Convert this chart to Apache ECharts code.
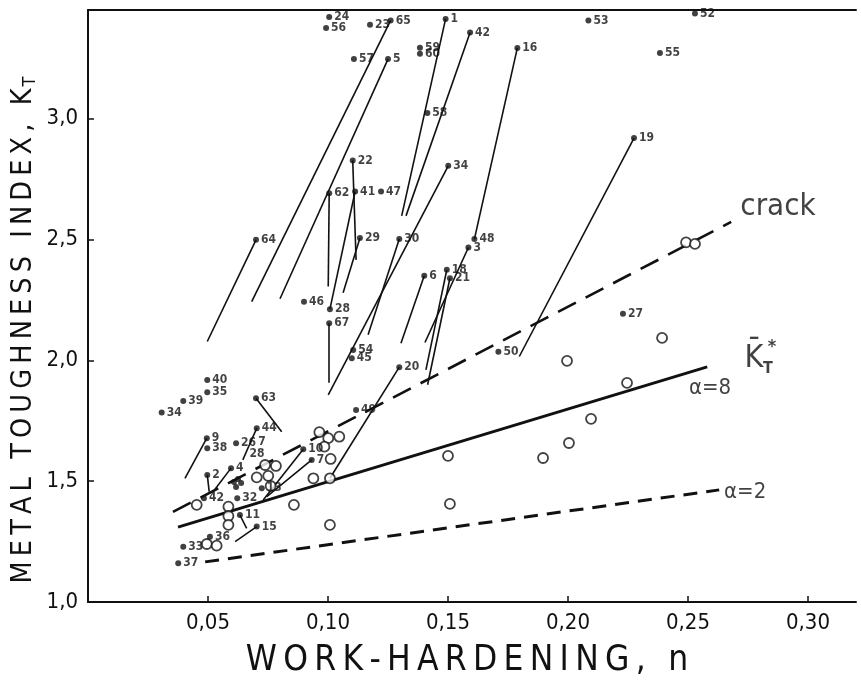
<!DOCTYPE html>
<html>
<head>
<meta charset="utf-8">
<script src="https://cdn.jsdelivr.net/npm/echarts@6/dist/echarts.min.js"></script>
<style>
  html, body { margin: 0; padding: 0; background: #fff; }
  #chart { width: 861px; height: 682px; }
</style>
</head>
<body>
<div id="chart"></div>
<script>
// tick labels (comma decimals as in the original)
const xTickValues = [0.05, 0.10, 0.15, 0.20, 0.25, 0.30];
const xTickLabels = ['0,05', '0,10', '0,15', '0,20', '0,25', '0,30'];
const yTickValues = [1.0, 1.5, 2.0, 2.5, 3.0];
const yTickLabels = ['1,0', '1,5', '2,0', '2,5', '3,0'];

// numbered specimens (filled dots): [n, KT, label]
const dots = [
  [0.1005, 3.421, '24'], [0.0992, 3.376, '56'], [0.1175, 3.389, '23'], [0.1261, 3.407, '65'],
  [0.1108, 3.247, '57'], [0.125, 3.247, '5'], [0.1383, 3.294, '59'], [0.1383, 3.269, '60'],
  [0.149, 3.413, '1'], [0.1592, 3.357, '42'], [0.1414, 3.024, '58'], [0.1789, 3.293, '16'],
  [0.2085, 3.407, '53'], [0.2529, 3.435, '52'], [0.2383, 3.272, '55'], [0.2275, 2.920, '19'],
  [0.1103, 2.827, '22'], [0.1005, 2.692, '62'], [0.1113, 2.699, '41'], [0.1221, 2.699, '47'],
  [0.1501, 2.805, '34'], [0.07, 2.499, '64'], [0.1133, 2.506, '29'], [0.1297, 2.502, '30'],
  [0.161, 2.502, '48'], [0.1585, 2.467, '3'], [0.1495, 2.375, '18'], [0.1508, 2.340, '21'],
  [0.1401, 2.350, '6'], [0.09, 2.243, '46'], [0.1008, 2.212, '28'], [0.1005, 2.154, '67'],
  [0.1105, 2.043, '54'], [0.1099, 2.009, '45'], [0.1297, 1.972, '20'], [0.171, 2.036, '50'],
  [0.2229, 2.193, '27'], [0.1117, 1.795, '49'], [0.0497, 1.919, '40'], [0.0497, 1.868, '35'],
  [0.0397, 1.832, '39'], [0.0307, 1.784, '34'], [0.07, 1.843, '63'], [0.0703, 1.719, '44'],
  [0.0617, 1.657, '26'], [0.0495, 1.678, '9'], [0.0497, 1.636, '38'], [0.0497, 1.526, '2'],
  [0.0483, 1.429, '42'], [0.0596, 1.554, '4'], [0.0622, 1.429, '32'], [0.0633, 1.360, '11'],
  [0.0703, 1.312, '15'], [0.0508, 1.270, '36'], [0.0397, 1.229, '33'], [0.0376, 1.160, '37'],
  [0.0724, 1.471, '13'], [0.0897, 1.632, '10'], [0.0932, 1.588, '7'],
  [0.0608, 1.497, ''], [0.0625, 1.509, ''], [0.0638, 1.493, ''], [0.0617, 1.476, '']
];

// tie lines from a dot down to its second state: [n1, KT1, n2, KT2]
const ties = [
  [0.1261, 3.407, 0.0682, 2.243], [0.125, 3.247, 0.08, 2.255], [0.07, 2.499, 0.0497, 2.078],
  [0.149, 3.413, 0.1307, 2.598], [0.1592, 3.357, 0.1325, 2.598], [0.1789, 3.293, 0.161, 2.502],
  [0.1103, 2.827, 0.1117, 2.416], [0.1005, 2.692, 0.1001, 2.306], [0.1113, 2.699, 0.1008, 2.212],
  [0.1133, 2.506, 0.1063, 2.280], [0.1501, 2.805, 0.1001, 1.857], [0.1297, 2.502, 0.1167, 2.106],
  [0.1005, 2.154, 0.1004, 1.907], [0.1401, 2.350, 0.1304, 2.071], [0.1585, 2.467, 0.1404, 2.074],
  [0.1495, 2.375, 0.1408, 1.961], [0.1508, 2.340, 0.1415, 1.899], [0.1297, 1.972, 0.1008, 1.512],
  [0.2275, 2.920, 0.1797, 2.016], [0.07, 1.843, 0.0807, 1.705], [0.0703, 1.719, 0.0645, 1.588],
  [0.0495, 1.678, 0.0404, 1.512], [0.0497, 1.526, 0.0505, 1.457], [0.0596, 1.554, 0.0522, 1.457],
  [0.0633, 1.360, 0.0661, 1.305], [0.0703, 1.312, 0.0613, 1.250], [0.0897, 1.632, 0.073, 1.422],
  [0.0932, 1.588, 0.0745, 1.436]
];

// open circles
const circles = [
  [0.0453, 1.402], [0.0703, 1.516], [0.0738, 1.567], [0.0783, 1.563], [0.0751, 1.522],
  [0.0761, 1.480], [0.0585, 1.395], [0.0585, 1.356], [0.0585, 1.319], [0.0858, 1.402],
  [0.0495, 1.240], [0.0536, 1.233], [0.0964, 1.703], [0.1001, 1.678], [0.1047, 1.684],
  [0.0985, 1.643], [0.1011, 1.592], [0.0939, 1.512], [0.1008, 1.512], [0.1008, 1.319],
  [0.15, 1.605], [0.1508, 1.406], [0.1896, 1.596], [0.2004, 1.658], [0.2096, 1.758],
  [0.2246, 1.907], [0.1996, 1.998], [0.2392, 2.093], [0.2492, 2.488], [0.2529, 2.482]
];

// reference curves
const crackLine = [[0.0354, 1.373], [0.268, 2.573]];
const alpha8Line = [[0.0375, 1.31], [0.258, 1.973]];
const alpha2Line = [[0.0488, 1.166], [0.263, 1.464]];

// loose labels: [n, KT, text, fontSize]
const notes = [
  [0.0725, 1.663, '7', 12], [0.0704, 1.613, '28', 12],
  [0.2875, 2.636, 'crack', 31], [0.2775, 2.006, 'K\u0304', 32], [0.2833, 1.965, 'T', 16],
  [0.285, 2.056, '*', 18], [0.2592, 1.886, '\u03b1=8', 22], [0.2738, 1.455, '\u03b1=2', 22]
];

const FONT = "'DejaVu Sans Condensed', 'DejaVu Sans', sans-serif";
const INK = '#111';

function tickLabel(values, labels) {
  return function (v) {
    for (let i = 0; i < values.length; i++) {
      if (Math.abs(values[i] - v) < 1e-6) return labels[i];
    }
    return '';
  };
}

function spaced(s) {
  return s.split('').join('\u2009');
}

let chart = echarts.init(document.getElementById('chart'));

chart.setOption({
  animation: false,
  backgroundColor: '#fff',
  grid: { left: 88, right: 5, top: 10, bottom: 80 },
  xAxis: [
    {
      type: 'value', min: 0, max: 0.32, interval: 0.05,
      axisLine: { onZero: false, lineStyle: { color: INK, width: 2 } },
      axisTick: { inside: true, length: 6, lineStyle: { color: INK, width: 1.5 } },
      splitLine: { show: false },
      axisLabel: {
        formatter: tickLabel(xTickValues, xTickLabels), color: INK, fontSize: 22,
        fontFamily: FONT, margin: 10, showMinLabel: false, showMaxLabel: false
      }
    },
    {
      type: 'value', position: 'top', min: 0, max: 0.32,
      axisLine: { onZero: false, lineStyle: { color: INK, width: 2 } },
      axisTick: { show: false }, axisLabel: { show: false }, splitLine: { show: false }
    }
  ],
  yAxis: {
    type: 'value', min: 1.0, max: 3.45, interval: 0.5,
    axisLine: { onZero: false, lineStyle: { color: INK, width: 2 } },
    axisTick: { inside: true, length: 6, lineStyle: { color: INK, width: 1.5 } },
    splitLine: { show: false },
    axisLabel: {
      formatter: tickLabel(yTickValues, yTickLabels), color: INK, fontSize: 22,
      fontFamily: FONT, margin: 10, showMaxLabel: false
    }
  },
  graphic: [
    {
      type: 'text', x: 24, y: 330, rotation: Math.PI / 2,
      style: {
        text: '{a|' + spaced('METAL TOUGHNESS INDEX, K') + '}{b|T}',
        align: 'center', verticalAlign: 'middle', fill: INK,
        rich: {
          a: { fontSize: 28.5, fontFamily: FONT, fill: INK },
          b: { fontSize: 18, fontFamily: FONT, fill: INK, padding: [12, 0, 0, 2] }
        }
      }
    },
    {
      type: 'text', x: 467, y: 661,
      style: {
        text: spaced('WORK-HARDENING, n'), fontSize: 35, fontFamily: FONT, fill: INK,
        align: 'center', verticalAlign: 'middle'
      }
    }
  ],
  series: [
    {
      type: 'lines', coordinateSystem: 'cartesian2d', silent: true, z: 2,
      lineStyle: { color: INK, width: 1.6, opacity: 1 },
      data: ties.map(t => ({ coords: [[t[0], t[1]], [t[2], t[3]]] }))
    },
    {
      type: 'line', data: crackLine, symbol: 'none', silent: true, z: 2,
      lineStyle: { color: INK, width: 2.6, type: [20, 11] }
    },
    {
      type: 'line', data: alpha8Line, symbol: 'none', silent: true, z: 2,
      lineStyle: { color: INK, width: 3 }
    },
    {
      type: 'line', data: alpha2Line, symbol: 'none', silent: true, z: 2,
      lineStyle: { color: INK, width: 3, type: [14, 9] }
    },
    {
      type: 'scatter', data: circles, symbol: 'circle', symbolSize: 10, z: 3,
      itemStyle: { color: '#fff', borderColor: INK, borderWidth: 1.8 }
    },
    {
      type: 'scatter', symbolSize: 6, z: 4,
      itemStyle: { color: INK },
      data: dots.map(d => ({ value: [d[0], d[1]], name: d[2] })),
      label: {
        show: true, position: 'right', distance: 2, formatter: p => p.name,
        color: INK, fontSize: 12, fontWeight: 'bold', fontFamily: FONT
      }
    },
    {
      type: 'scatter', symbolSize: 0, z: 5, silent: true,
      data: notes.map(n => ({
        value: [n[0], n[1]],
        label: { formatter: n[2], fontSize: n[3], fontWeight: n[3] < 20 ? 'bold' : 'normal' }
      })),
      label: { show: true, position: 'inside', color: INK, fontFamily: FONT }
    }
  ]
});
</script>
</body>
</html>
